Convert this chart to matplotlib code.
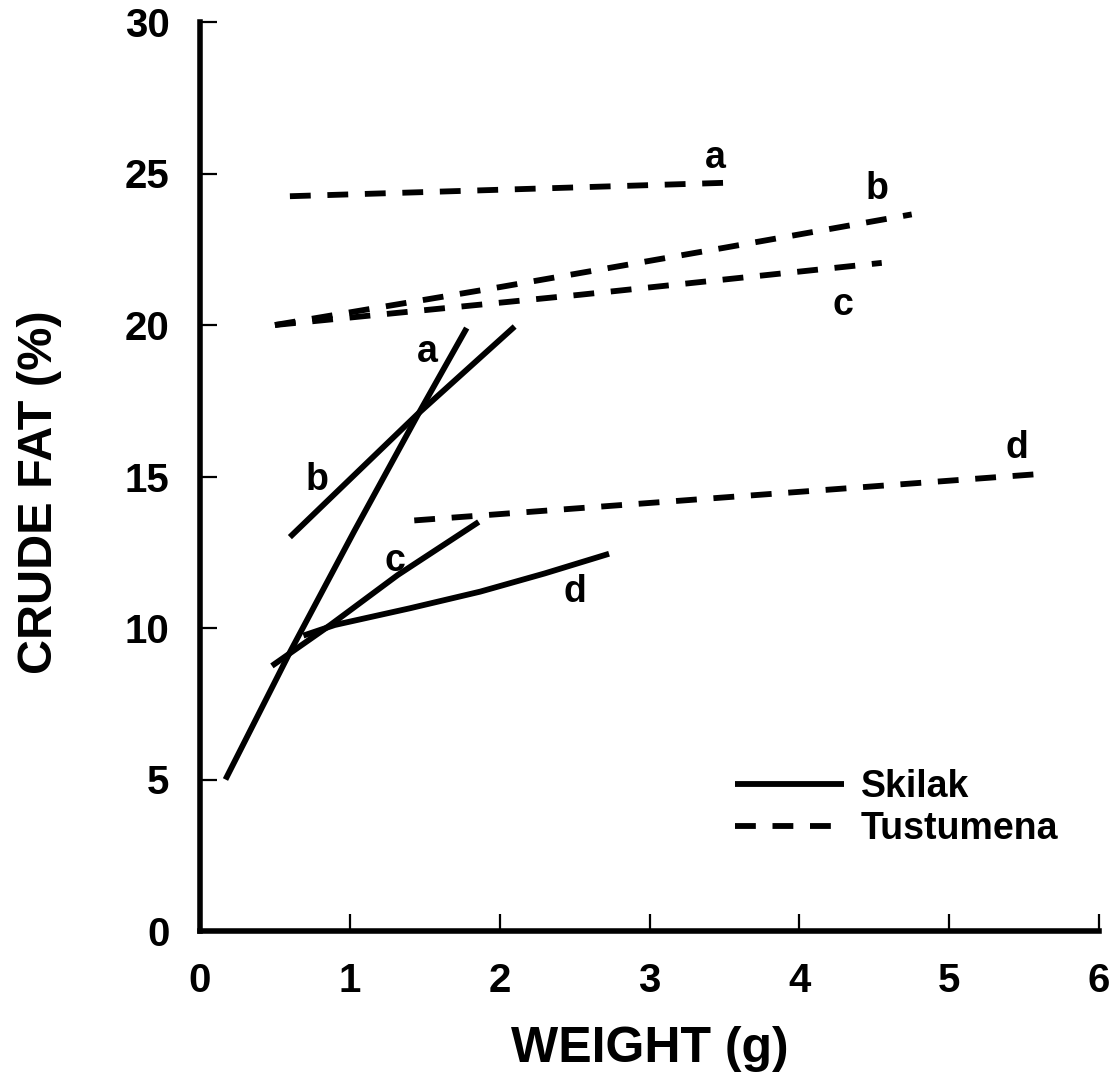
import matplotlib
matplotlib.use("Agg")
import matplotlib.pyplot as plt

plt.rcParams['font.family'] = ['Liberation Sans', 'DejaVu Sans']
plt.rcParams['font.weight'] = 'bold'
plt.rcParams['lines.scale_dashes'] = False

# Skilak (solid) regression lines: weight (g) vs crude fat (%)
skilak_a_x = [0.17, 0.60, 1.03, 1.45, 1.78]
skilak_a_y = [5.0, 9.2, 13.2, 17.0, 19.9]
skilak_b_x = [0.60, 1.45, 2.10]
skilak_b_y = [13.0, 17.05, 19.95]
skilak_c_x = [0.48, 0.87, 1.32, 1.86]
skilak_c_y = [8.75, 10.1, 11.75, 13.5]
skilak_d_x = [0.69, 0.90, 1.40, 1.87, 2.30, 2.73]
skilak_d_y = [9.75, 10.1, 10.65, 11.2, 11.8, 12.45]

# Tustumena (dashed) regression lines
tust_a_x = [0.60, 3.55]
tust_a_y = [24.25, 24.7]
tust_b_x = [0.50, 2.00, 3.50, 4.75]
tust_b_y = [20.0, 21.25, 22.55, 23.65]
tust_c_x = [0.50, 2.54, 4.55]
tust_c_y = [20.0, 21.0, 22.05]
tust_d_x = [1.43, 5.65]
tust_d_y = [13.55, 15.1]

# line labels
skilak_labels = ['a', 'b', 'c', 'd']
skilak_label_x = [1.52, 0.78, 1.30, 2.50]
skilak_label_y = [19.1, 14.9, 12.2, 11.2]
tust_labels = ['a', 'b', 'c', 'd']
tust_label_x = [3.44, 4.52, 4.29, 5.45]
tust_label_y = [25.5, 24.5, 20.65, 15.95]

x_ticks = [0, 1, 2, 3, 4, 5, 6]
y_ticks = [0, 5, 10, 15, 20, 25, 30]

fig = plt.figure(figsize=(11.14, 10.84), dpi=100)
ax = fig.add_axes([200/1114, 1-931/1084, 899/1114, 909/1084])

lw = 4.2
dash = (15, 12)
ax.plot(skilak_a_x, skilak_a_y, color='black', lw=lw, solid_capstyle='butt', label='Skilak')
ax.plot(skilak_b_x, skilak_b_y, color='black', lw=lw, solid_capstyle='butt')
ax.plot(skilak_c_x, skilak_c_y, color='black', lw=lw, solid_capstyle='butt')
ax.plot(skilak_d_x, skilak_d_y, color='black', lw=lw, solid_capstyle='butt')
ax.plot(tust_a_x, tust_a_y, color='black', lw=lw, dashes=dash, label='Tustumena')
ax.plot(tust_b_x, tust_b_y, color='black', lw=lw, dashes=dash)
ax.plot(tust_c_x, tust_c_y, color='black', lw=lw, dashes=dash)
ax.plot(tust_d_x, tust_d_y, color='black', lw=lw, dashes=dash)

for t, x, y in zip(skilak_labels, skilak_label_x, skilak_label_y):
    ax.text(x, y, t, fontsize=27, fontweight='bold', ha='center', va='center')
for t, x, y in zip(tust_labels, tust_label_x, tust_label_y):
    ax.text(x, y, t, fontsize=27, fontweight='bold', ha='center', va='center')

ax.set_xlim(0, 6)
ax.set_ylim(0, 30)
ax.set_xticks(x_ticks)
ax.set_yticks(y_ticks)
ax.set_xticklabels([str(v) for v in x_ticks], fontsize=29, fontweight='bold')
ax.set_yticklabels([str(v) for v in y_ticks], fontsize=29, fontweight='bold')
ax.tick_params(axis='both', direction='in', length=12, width=1.6, pad=22)

for s in ['top', 'right']:
    ax.spines[s].set_visible(False)
for s in ['left', 'bottom']:
    ax.spines[s].set_linewidth(4)

ax.set_xlabel('WEIGHT (g)', fontsize=36, fontweight='bold')
ax.set_ylabel('CRUDE FAT (%)', fontsize=35, fontweight='bold')
ax.xaxis.set_label_coords(0.5, (931-1026)/909)
ax.yaxis.set_label_coords((62-200)/899, (931-492)/909)

leg = ax.legend(loc='center left', bbox_to_anchor=((735-200)/899, (931-808)/909),
                frameon=False, fontsize=27, handlelength=2.9, handletextpad=0.45,
                labelspacing=0.15, borderpad=0, borderaxespad=0)
for t in leg.get_texts():
    t.set_fontweight('bold')

fig.savefig('out.png', dpi=100)
